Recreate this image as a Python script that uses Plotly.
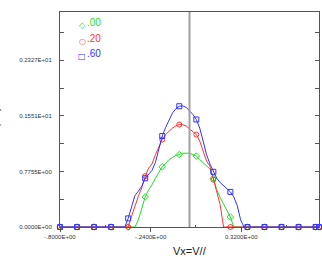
import numpy as np
import plotly.graph_objects as go

# sample grid of Vx (77 points from -0.8 to 0.8)
vx = np.linspace(-0.8, 0.8, 77)

green_00 = [0]*23 + [0.10, 0.26, 0.42, 0.52, 0.59, 0.68, 0.76, 0.84, 0.89, 0.94, 0.97, 1.00, 1.01,
                     1.03, 1.03, 1.03, 1.01, 0.99, 0.94, 0.90, 0.86, 0.81, 0.68, 0.52, 0.41, 0.32,
                     0.22, 0.14] + [0]*26
red_20 = [0]*21 + [0.15, 0.30, 0.43, 0.55, 0.71, 0.82, 0.88, 1.01, 1.12, 1.22, 1.29, 1.34, 1.38,
                   1.41, 1.43, 1.43, 1.41, 1.37, 1.33, 1.29, 1.20, 1.05, 0.92, 0.85, 0.66, 0.47,
                   0.31] + [0]*29
blue_60 = [0]*20 + [0.12, 0.30, 0.44, 0.50, 0.57, 0.68, 0.74, 0.79, 0.90, 1.08, 1.27, 1.39, 1.49,
                    1.59, 1.65, 1.685, 1.69, 1.67, 1.62, 1.57, 1.50, 1.38, 1.20, 1.01, 0.88, 0.77,
                    0.68, 0.62, 0.58, 0.53, 0.49, 0.42, 0.30, 0.10] + [0]*23

series_names = [".00", ".20", ".60"]
series_colors = ["#22dd22", "#ff3333", "#3333ff"]
series_symbols = ["diamond-open", "circle-open", "square-open"]
legend_glyphs = ["\u25c7", "\u25cb", "\u25a1"]
series_values = [green_00, red_20, blue_60]

x_major = [-0.8, -0.24, 0.32]
x_major_text = ["-.8000E+00", "-.2400E+00", "0.3200E+00"]
x_all = [-0.8, -0.52, -0.24, 0.04, 0.32, 0.6]
x_minor = [-0.52, 0.04, 0.6]
y_ticks = [0, 0.38775, 0.7755, 1.16325, 1.551, 1.93875, 2.327, 2.71475]
y_text = ["0.0000E+00", "", "0.7755E+00", "", "0.1551E+01", "", "0.2327E+01", ""]

marker_idx = list(range(0, 77, 5)) + [76]

fig = go.Figure()
for name, col, sym, vals in zip(series_names, series_colors, series_symbols, series_values):
    fig.add_trace(go.Scatter(x=vx, y=vals, mode="lines", line=dict(color=col, width=1),
                             showlegend=False, cliponaxis=False, hoverinfo="skip"))
    fig.add_trace(go.Scatter(x=[vx[i] for i in marker_idx], y=[vals[i] for i in marker_idx],
                             mode="markers", name=name, showlegend=False,
                             marker=dict(symbol=sym, size=5, color=col, line=dict(width=1, color=col)),
                             cliponaxis=False))

# legend drawn as text (symbol glyph + raised label)
for j, (name, col, glyph) in enumerate(zip(series_names, series_colors, legend_glyphs)):
    fig.add_annotation(text=glyph, xref="paper", yref="paper", x=0.085, y=0.935 - j * 0.072,
                       xanchor="center", yanchor="middle", showarrow=False,
                       font=dict(family="DejaVu Sans", size=8, color=col))
    fig.add_annotation(text=name, xref="paper", yref="paper", x=0.097, y=0.949 - j * 0.072,
                       xanchor="left", yanchor="middle", showarrow=False,
                       font=dict(family="Liberation Sans", size=10, color=col))

fig.add_shape(type="line", xref="x", yref="paper", x0=0, x1=0, y0=0, y1=1,
              line=dict(color="#a0a0a0", width=2), layer="above")

fig.add_annotation(text="Vx=V//", xref="paper", yref="paper", x=0.5, y=0, yshift=-24,
                   xanchor="center", yanchor="middle", showarrow=False,
                   font=dict(family="Liberation Sans", size=11, color="#222"))
fig.add_annotation(text="f(Vx)", xref="paper", yref="paper", x=0, y=0.5, xshift=-66,
                   xanchor="center", yanchor="middle", textangle=-90, showarrow=False,
                   font=dict(family="Liberation Sans", size=11, color="#222"))
fig.add_annotation(text="F_Vx(Vx)", xref="paper", yref="paper", x=0, y=1, xshift=2, yshift=11,
                   xanchor="left", yanchor="bottom", showarrow=False,
                   font=dict(family="Liberation Sans", size=11, color="#222"))

fig.update_layout(
    width=322, height=257,
    margin=dict(l=60, r=3, t=12, b=30, autoexpand=False),
    paper_bgcolor="white", plot_bgcolor="white",
    showlegend=False,
    xaxis=dict(range=[-0.8, 0.8], showgrid=False, zeroline=False, showline=True,
               linecolor="#555", linewidth=1, mirror=True, automargin=False,
               tickvals=x_major, ticktext=x_major_text, ticks="outside", ticklen=4,
               tickcolor="#555",
               minor=dict(tickvals=x_minor, ticks="inside", ticklen=2, tickcolor="#555"),
               tickfont=dict(family="Liberation Sans", size=6, color="#333")),
    xaxis2=dict(range=[-0.8, 0.8], overlaying="x", side="top", showgrid=False, automargin=False,
                zeroline=False, showline=False, tickvals=x_all, ticks="inside", ticklen=4,
                tickcolor="#555", showticklabels=False),
    yaxis=dict(range=[0, 3.0], showgrid=False, zeroline=False, showline=True, automargin=False,
               linecolor="#555", linewidth=1, mirror="ticks",
               tickvals=y_ticks, ticktext=y_text, ticks="inside", ticklen=4, tickcolor="#555",
               ticklabelstandoff=6,
               tickfont=dict(family="Liberation Sans", size=6, color="#333")),
)

fig.write_html("out.html", config={"displayModeBar": False},
               post_script="document.body.style.margin='0';")
